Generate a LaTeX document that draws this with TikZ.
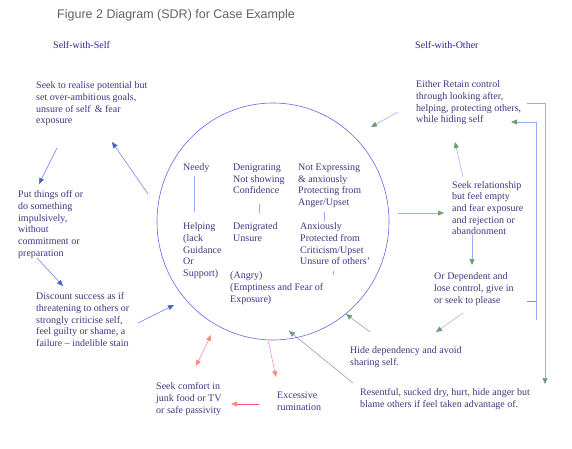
\documentclass[tikz,border=0pt]{standalone}
\usepackage{fontspec}
\setmainfont{Liberation Serif}
\newfontfamily\titlefont{Liberation Sans}
\usetikzlibrary{arrows.meta}
\definecolor{txtc}{rgb}{0.24,0.22,0.50}
\definecolor{navy}{rgb}{0.15,0.15,0.55}
\definecolor{titlec}{rgb}{0.38,0.38,0.42}
\definecolor{circc}{rgb}{0.40,0.40,0.92}
\definecolor{blueline}{rgb}{0.38,0.48,0.95}
\definecolor{lightline}{rgb}{0.58,0.68,0.96}
\definecolor{headgreen}{rgb}{0.45,0.60,0.45}
\definecolor{grayline}{rgb}{0.50,0.60,0.58}
\definecolor{pinkline}{rgb}{0.96,0.50,0.82}
\definecolor{salmon}{rgb}{0.96,0.55,0.50}
\definecolor{redline}{rgb}{0.96,0.35,0.45}
\tikzset{
  txt/.style={anchor=north west, inner sep=0pt, align=left, text=txtc,
    font=\fontsize{10}{11.7}\selectfont},
  hdr/.style={anchor=north west, inner sep=0pt, text=navy,
    font=\fontsize{10}{11}\selectfont},
  bluearrow/.style={draw=blueline, line width=0.5pt, -{Triangle[width=5pt,length=6pt,color=blueline!80!black]}},
  greenarrow/.style={draw=lightline, line width=0.5pt, -{Triangle[width=5pt,length=6pt,color=headgreen]}},
  grayarrow/.style={draw=grayline, line width=0.5pt, -{Triangle[width=5pt,length=6pt,color=headgreen]}},
  pinkarrow/.style={draw=pinkline, line width=0.5pt, -{Triangle[width=5pt,length=6pt,color=salmon]}},
  pinkdouble/.style={draw=pinkline, line width=0.5pt, {Triangle[width=5pt,length=6pt,color=salmon]}-{Triangle[width=5pt,length=6pt,color=salmon]}},
  redarrow/.style={draw=redline, line width=0.5pt, -{Triangle[width=5pt,length=6pt,color=salmon]}},
  vline/.style={draw=lightline, line width=0.5pt},
}
\begin{document}
\begin{tikzpicture}[x=1pt,y=-1pt]
\useasboundingbox[fill=white] (0,0) rectangle (572,449);
% title and headers
\node[anchor=north west, inner sep=0pt, text=titlec, font=\titlefont\fontsize{12.5}{14}\selectfont] (title) at (57,9) {Figure 2 Diagram (SDR) for Case Example};
\node[hdr] (sws) at (53,41.5) {Self-with-Self};
\node[hdr] (swo) at (415,41.5) {Self-with-Other};
% circle
\draw[circc, line width=0.6pt] (273,221.5) ellipse [x radius=116, y radius=118.5];
% left texts
\node[txt] (realise) at (36,81.5) {Seek to realise potential but\\set over-ambitious goals,\\unsure of self \,\& fear\\exposure};
\node[txt] (putoff) at (18,190.5) {Put things off or\\do something\\impulsively,\\without\\commitment or\\preparation};
\node[txt] (discount) at (36,292.5) {Discount success as if\\threatening to others or\\strongly criticise self,\\feel guilty or shame, a\\failure -- indelible stain};
% inside circle
\node[txt] (needy) at (183,163.5) {Needy};
\node[txt] (helping) at (183,222.5) {Helping\\(lack\\Guidance\\Or\\Support)};
\node[txt] (denig) at (233,163.5) {Denigrating\\Not showing\\Confidence};
\node[txt] (denigd) at (233,222.5) {Denigrated\\Unsure};
\node[txt] (notexp) at (298,163.5) {Not Expressing\\\& anxiously\\Protecting from\\Anger/Upset};
\node[txt] (anx) at (300,222.5) {Anxiously\\Protected from\\Criticism/Upset\\Unsure of others'};
\node[txt] (angry) at (230,271.5) {(Angry)\\(Emptiness and Fear of\\Exposure)};
% right texts
\node[txt] (either) at (416,80.5) {Either Retain control\\through looking after,\\helping, protecting others,\\while hiding self};
\node[txt] (seekrel) at (452,181) {Seek relationship\\but feel empty\\and fear exposure\\and rejection or\\abandonment};
\node[txt] (ordep) at (434,272.5) {Or Dependent and\\lose control, give in\\or seek to please};
\node[txt] (hide) at (350,346.5) {Hide dependency and avoid\\sharing self.};
\node[txt] (resent) at (360,388.5) {Resentful, sucked dry, hurt, hide anger but\\blame others if feel taken advantage of.};
% bottom texts
\node[txt] (comfort) at (156,382.5) {Seek comfort in\\junk food or TV\\or safe passivity};
\node[txt] (rumin) at (277,391.5) {Excessive\\rumination};
% inner vertical links
\coordinate (n1) at (194,176); \coordinate (n2) at (194,212);
\draw[vline] (n1) -- (n2);
\coordinate (d1) at (259,204); \coordinate (d2) at (259,213);
\draw[vline] (d1) -- (d2);
\coordinate (e1) at (324,212); \coordinate (e2) at (324,221);
\draw[vline] (e1) -- (e2);
\coordinate (u1) at (333,271); \coordinate (u2) at (333,275);
\draw[vline] (u1) -- (u2);
% left arrows
\coordinate (a1s) at (57,148); \coordinate (a1e) at (39,184);
\draw[bluearrow] (a1s) -- (a1e);
\coordinate (a2s) at (148,194); \coordinate (a2e) at (112,142);
\draw[bluearrow] (a2s) -- (a2e);
\coordinate (a3s) at (37,258); \coordinate (a3e) at (63,286);
\draw[bluearrow] (a3s) -- (a3e);
\coordinate (a4s) at (138,323); \coordinate (a4e) at (174,305);
\draw[bluearrow] (a4s) -- (a4e);
% right arrows
\coordinate (b1s) at (398,112); \coordinate (b1e) at (371,127);
\draw[greenarrow] (b1s) -- (b1e);
\coordinate (b2s) at (463,177); \coordinate (b2e) at (455,142);
\draw[greenarrow] (b2s) -- (b2e);
\coordinate (b3s) at (398,213); \coordinate (b3e) at (444,213);
\draw[greenarrow] (b3s) -- (b3e);
\coordinate (b4s) at (472,235); \coordinate (b4e) at (472,265);
\draw[greenarrow] (b4s) -- (b4e);
\coordinate (b5s) at (463,313); \coordinate (b5e) at (436,332);
\draw[greenarrow] (b5s) -- (b5e);
% bracket connectors on the right
\coordinate (c1s) at (527,103); \coordinate (c1k) at (545,103); \coordinate (c1e) at (545,384);
\draw[greenarrow] (c1s) -- (c1k) -- (c1e);
\coordinate (c2s) at (536,320); \coordinate (c2k) at (536,122); \coordinate (c2e) at (511,122);
\draw[greenarrow] (c2s) -- (c2k) -- (c2e);
\coordinate (c3s) at (527,301); \coordinate (c3e) at (536,301);
\draw[draw=grayline, line width=0.5pt] (c3s) -- (c3e);
% lower right arrows
\coordinate (h1s) at (370,332); \coordinate (h1e) at (346,314);
\draw[grayarrow] (h1s) -- (h1e);
\coordinate (r1s) at (353,383); \coordinate (r1e) at (289,331);
\draw[grayarrow] (r1s) -- (r1e);
% bottom arrows
\coordinate (p1s) at (196,366); \coordinate (p1e) at (211,335);
\draw[pinkdouble] (p1s) -- (p1e);
\coordinate (p2s) at (268,340); \coordinate (p2e) at (276,377);
\draw[pinkarrow] (p2s) -- (p2e);
\coordinate (p3s) at (259,404); \coordinate (p3e) at (231,404);
\draw[redarrow] (p3s) -- (p3e);
\end{tikzpicture}
\end{document}
